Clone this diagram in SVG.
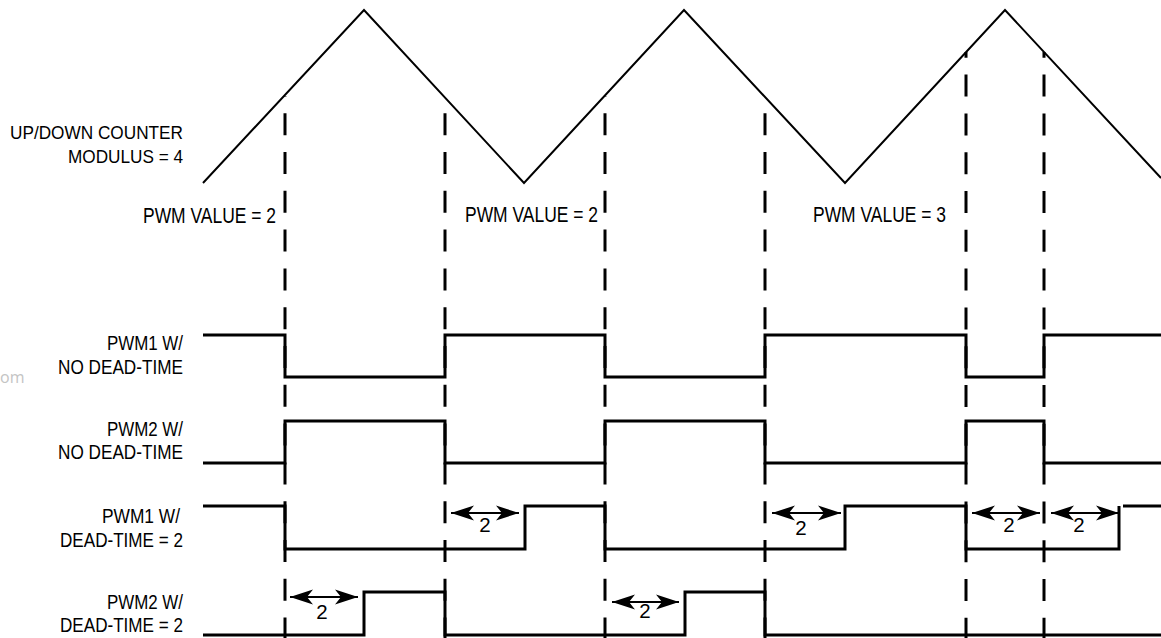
<svg xmlns="http://www.w3.org/2000/svg" width="1161" height="638" viewBox="0 0 1161 638">
<style>
.lbl{font-family:"Liberation Sans",Arial,sans-serif;font-size:20.5px;fill:#000}
.big{font-size:21.5px}
.mid{font-size:18.5px}
.wave{fill:none;stroke:#000;stroke-width:3;stroke-linejoin:miter}
.tri{fill:none;stroke:#000;stroke-width:2;stroke-linejoin:miter}
.dash{stroke:#000;stroke-width:3;stroke-dasharray:22 16.8}
.arr{stroke:#000;stroke-width:2;marker-start:url(#ah);marker-end:url(#ah)}
.wm{font-family:"Open Sans","Liberation Sans",sans-serif;font-size:16px;fill:#c4c4c4}
</style>
<defs>
<marker id="ah" viewBox="-25 -9 26 18" refX="0" refY="0" markerWidth="26" markerHeight="18" markerUnits="userSpaceOnUse" orient="auto-start-reverse">
<path d="M0,0 L-23,-7.5 L-17,0 L-23,7.5 Z" fill="#000"/>
</marker>
</defs>
<rect width="1161" height="638" fill="#fff"/>
<text class="wm" x="0" y="383">om</text>
<g id="counter">
<polyline class="tri" points="203,183 364,10 524,183 684,10 845,183 1005,10 1161,178"/>
</g>
<g id="connectors">
<line class="dash" x1="285" y1="96" x2="285" y2="638" style="stroke-dashoffset:21.6"/>
<line class="dash" x1="445" y1="97" x2="445" y2="638" style="stroke-dashoffset:22.6"/>
<line class="dash" x1="605" y1="96" x2="605" y2="638" style="stroke-dashoffset:21.6"/>
<line class="dash" x1="765" y1="97" x2="765" y2="638" style="stroke-dashoffset:22.6"/>
<line class="dash" x1="966" y1="52" x2="966" y2="638" style="stroke-dashoffset:16.2"/>
<line class="dash" x1="1044" y1="52" x2="1044" y2="638" style="stroke-dashoffset:16.2"/>
</g>
<g id="labels">
<text class="lbl mid" x="10" y="139" textLength="173" lengthAdjust="spacingAndGlyphs">UP/DOWN COUNTER</text>
<text class="lbl mid" x="68" y="163" textLength="115" lengthAdjust="spacingAndGlyphs">MODULUS = 4</text>
<text class="lbl big" x="143" y="223" textLength="133" lengthAdjust="spacingAndGlyphs">PWM VALUE = 2</text>
<text class="lbl big" x="465" y="222" textLength="133" lengthAdjust="spacingAndGlyphs">PWM VALUE = 2</text>
<text class="lbl big" x="813" y="222" textLength="133" lengthAdjust="spacingAndGlyphs">PWM VALUE = 3</text>
</g>
<g id="pwm1-no-dt">
<text class="lbl" x="107" y="350" textLength="76" lengthAdjust="spacingAndGlyphs">PWM1 W/</text>
<text class="lbl" x="58" y="374" textLength="125" lengthAdjust="spacingAndGlyphs">NO DEAD-TIME</text>
<path class="wave" d="M203,335 H285 V377 H445 V335 H605 V377 H765 V335 H966 V377 H1044 V335 H1161"/>
</g>
<g id="pwm2-no-dt">
<text class="lbl" x="107" y="436" textLength="76" lengthAdjust="spacingAndGlyphs">PWM2 W/</text>
<text class="lbl" x="58" y="459" textLength="125" lengthAdjust="spacingAndGlyphs">NO DEAD-TIME</text>
<path class="wave" d="M203,463 H285 V421 H445 V463 H605 V421 H765 V463 H966 V421 H1044 V463 H1161"/>
</g>
<g id="pwm1-dt">
<text class="lbl" x="102" y="523" textLength="78" lengthAdjust="spacingAndGlyphs">PWM1 W/</text>
<text class="lbl" x="60" y="547" textLength="123" lengthAdjust="spacingAndGlyphs">DEAD-TIME = 2</text>
<path class="wave" d="M203,506 H285 V549 H525 V506 H605 V549 H845 V506 H966 V549 H1119 V506"/>
<path class="wave" d="M1123,506 H1161"/>
</g>
<g id="pwm2-dt">
<text class="lbl" x="107" y="609" textLength="76" lengthAdjust="spacingAndGlyphs">PWM2 W/</text>
<text class="lbl" x="60" y="632" textLength="123" lengthAdjust="spacingAndGlyphs">DEAD-TIME = 2</text>
<path class="wave" d="M203,635 H364 V592 H445 V635 H685 V592 H765 V635 H1161"/>
</g>
<g id="dead-time-arrows">
<line class="arr" x1="290" y1="597" x2="358" y2="597"/>
<text class="lbl" x="322" y="619" text-anchor="middle">2</text>
<line class="arr" x1="451" y1="513" x2="519" y2="513"/>
<text class="lbl" x="485" y="532" text-anchor="middle">2</text>
<line class="arr" x1="612" y1="602" x2="679" y2="602"/>
<text class="lbl" x="645" y="618" text-anchor="middle">2</text>
<line class="arr" x1="772" y1="513" x2="841" y2="513"/>
<text class="lbl" x="801" y="535" text-anchor="middle">2</text>
<line class="arr" x1="972" y1="513" x2="1040" y2="513"/>
<text class="lbl" x="1009" y="532" text-anchor="middle">2</text>
<line class="arr" x1="1051" y1="513" x2="1119" y2="513"/>
<text class="lbl" x="1079" y="532" text-anchor="middle">2</text>
</g>
</svg>
